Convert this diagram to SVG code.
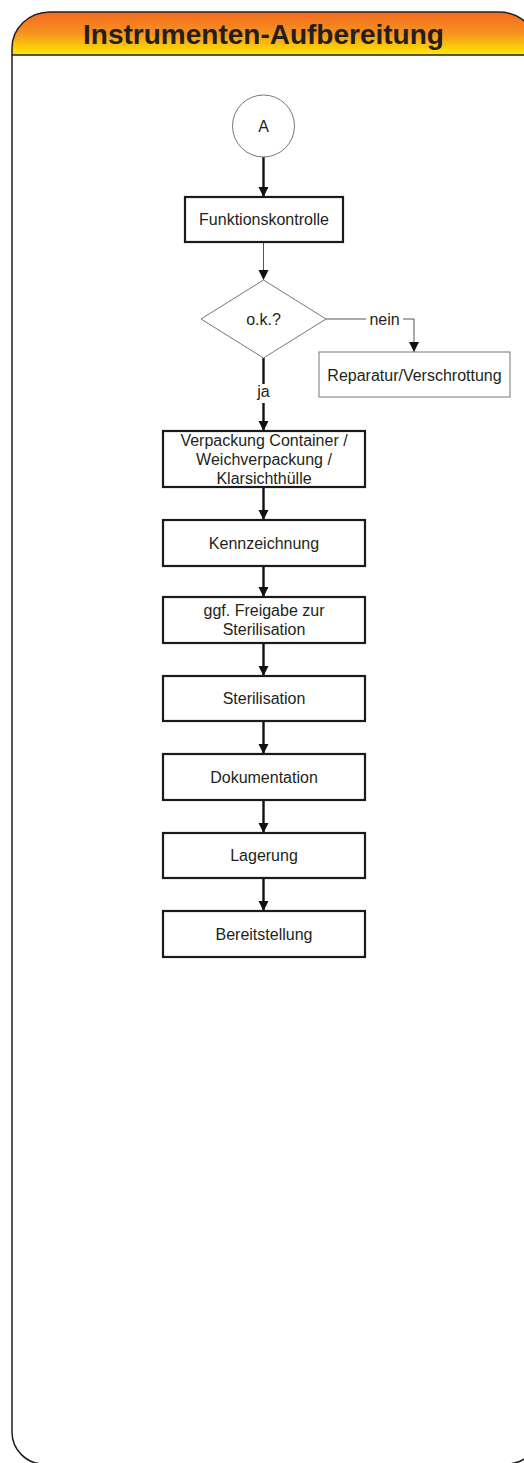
<svg xmlns="http://www.w3.org/2000/svg" width="524" height="1463" viewBox="0 0 524 1463">
<defs>
<linearGradient id="hdr" x1="0" y1="0" x2="0" y2="1">
<stop offset="0" stop-color="#F26B22"/>
<stop offset="0.5" stop-color="#F7921E"/>
<stop offset="1" stop-color="#FFEC00"/>
</linearGradient>
<marker id="ah" viewBox="0 0 10 10" markerUnits="userSpaceOnUse" markerWidth="10" markerHeight="11" refX="10" refY="5" orient="auto">
<path d="M0,0 L10,5 L0,10 Z" fill="#111"/>
</marker>
<style>
text{font-family:"Liberation Sans",Arial,sans-serif;fill:#231f20;font-size:16px;text-anchor:middle}
.title{font-size:28px;font-weight:bold}
.thick{fill:#fff;stroke:#1a1a1a;stroke-width:2.2}
.thin{fill:#fff;stroke:#777;stroke-width:1}
.cThick{fill:none;stroke:#111;stroke-width:2.4}
.cThin{fill:none;stroke:#555;stroke-width:1}
</style>
</defs>
<g id="frame">
<path d="M12,55 L12,1432 A32,32 0 0 0 44,1464 L507,1464 A32,32 0 0 0 539,1432 L539,55" fill="#fff" stroke="#231f20" stroke-width="1.5"/>
<path d="M12,55 L12,48 A38,36 0 0 1 50,12 L499,12 A40,40 0 0 1 539,52 L539,55 Z" fill="url(#hdr)" stroke="#231f20" stroke-width="1.5"/>
<text class="title" x="263.5" y="44">Instrumenten-Aufbereitung</text>
</g>
<g id="connectors">
<line class="cThick" x1="263.5" y1="157" x2="263.5" y2="197" marker-end="url(#ah)"/>
<line class="cThin" x1="263.5" y1="242" x2="263.5" y2="280" marker-end="url(#ah)"/>
<polyline class="cThin" points="326,319 366,319"/>
<polyline class="cThin" points="403,319 414,319 414,352" marker-end="url(#ah)"/>
<text x="384.5" y="325">nein</text>
<line class="cThick" x1="263.5" y1="358" x2="263.5" y2="384"/>
<text x="263.5" y="397">ja</text>
<line class="cThick" x1="263.5" y1="403" x2="263.5" y2="431" marker-end="url(#ah)"/>
<line class="cThick" x1="263.5" y1="487" x2="263.5" y2="520" marker-end="url(#ah)"/>
<line class="cThick" x1="263.5" y1="566" x2="263.5" y2="597" marker-end="url(#ah)"/>
<line class="cThick" x1="263.5" y1="643" x2="263.5" y2="676" marker-end="url(#ah)"/>
<line class="cThick" x1="263.5" y1="721" x2="263.5" y2="754" marker-end="url(#ah)"/>
<line class="cThick" x1="263.5" y1="800" x2="263.5" y2="833" marker-end="url(#ah)"/>
<line class="cThick" x1="263.5" y1="878" x2="263.5" y2="911" marker-end="url(#ah)"/>
</g>
<g id="nodeA">
<circle cx="263.5" cy="126" r="31" class="thin"/>
<text x="263.5" y="132">A</text>
</g>
<g id="funktionskontrolle">
<rect x="185" y="197" width="158" height="45" class="thick"/>
<text x="264" y="225">Funktionskontrolle</text>
</g>
<g id="ok">
<polygon points="263.5,280 326,319 263.5,358 201,319" class="thin"/>
<text x="263.5" y="325">o.k.?</text>
</g>
<g id="reparatur">
<rect x="319" y="352" width="191" height="45" class="thin"/>
<text x="414.5" y="381">Reparatur/Verschrottung</text>
</g>
<g id="verpackung">
<rect x="163" y="431" width="202" height="56" class="thick"/>
<text x="264" y="446">Verpackung Container /</text>
<text x="264" y="465">Weichverpackung /</text>
<text x="264" y="484">Klarsichthülle</text>
</g>
<g id="kennzeichnung">
<rect x="163" y="520" width="202" height="46" class="thick"/>
<text x="264" y="549">Kennzeichnung</text>
</g>
<g id="freigabe">
<rect x="163" y="597" width="202" height="46" class="thick"/>
<text x="264" y="616">ggf. Freigabe zur</text>
<text x="264" y="635">Sterilisation</text>
</g>
<g id="sterilisation">
<rect x="163" y="676" width="202" height="45" class="thick"/>
<text x="264" y="704">Sterilisation</text>
</g>
<g id="dokumentation">
<rect x="163" y="754" width="202" height="46" class="thick"/>
<text x="264" y="783">Dokumentation</text>
</g>
<g id="lagerung">
<rect x="163" y="833" width="202" height="45" class="thick"/>
<text x="264" y="861">Lagerung</text>
</g>
<g id="bereitstellung">
<rect x="163" y="911" width="202" height="46" class="thick"/>
<text x="264" y="940">Bereitstellung</text>
</g>
</svg>
